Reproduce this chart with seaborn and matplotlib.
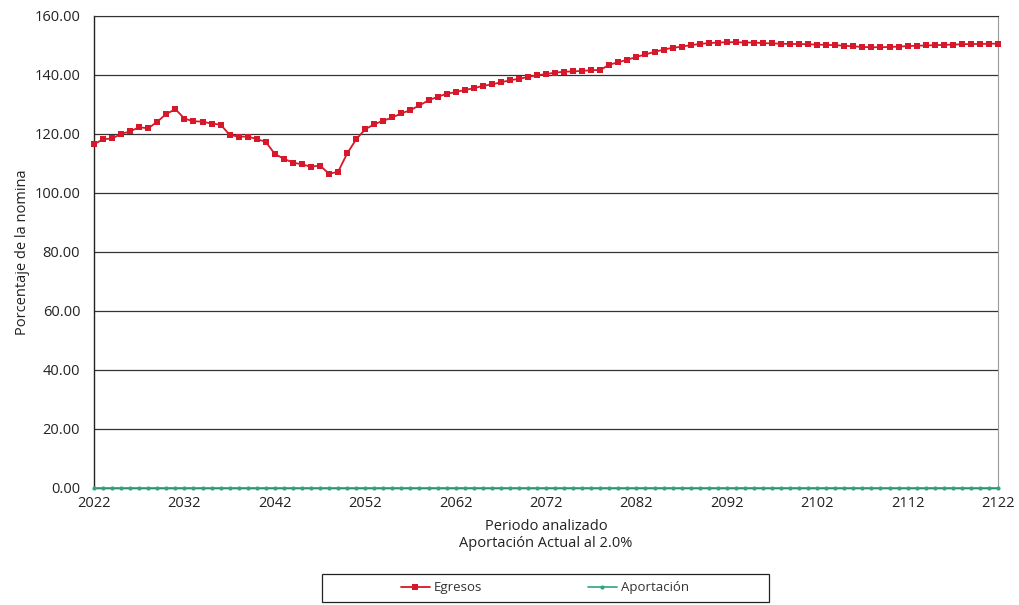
import pandas as pd
import seaborn as sns
import matplotlib.pyplot as plt
from matplotlib.patches import Rectangle
from matplotlib.ticker import MultipleLocator, FormatStrFormatter

# Datos
years = list(range(2022, 2123))
xticks = list(range(2022, 2123, 10))

egresos = [
    116.5, 118.2, 118.5, 120.0, 120.9, 122.3, 121.9, 124.2, 126.8, 128.4,
    125.2, 124.3, 124.2, 123.5, 123.2, 119.7, 119.1, 119.1, 118.3, 117.3,
    113.2, 111.6, 110.3, 109.7, 108.9, 109.3, 106.5, 107.2, 113.4, 118.2,
    121.6, 123.3, 124.5, 125.6, 127.0, 128.1, 129.7, 131.4, 132.6, 133.6,
    134.2, 134.9, 135.5, 136.3, 136.8, 137.5, 138.2, 138.7, 139.3, 139.9,
    140.3, 140.8, 141.1, 141.2, 141.4, 141.6, 141.7, 143.5, 144.3, 145.2,
    146.1, 147.0, 147.8, 148.6, 149.2, 149.6, 150.1, 150.5, 150.8, 151.0,
    151.1, 151.1, 151.0, 151.0, 150.8, 150.7, 150.6, 150.5, 150.5, 150.4,
    150.3, 150.2, 150.1, 149.9, 149.7, 149.5, 149.4, 149.4, 149.5, 149.6,
    149.8, 149.9, 150.0, 150.1, 150.2, 150.3, 150.4, 150.5, 150.5, 150.6,
    150.6,
]

aportacion = [
    0.0, 0.0, 0.0, 0.0, 0.0, 0.0, 0.0, 0.0, 0.0, 0.0,
    0.0, 0.0, 0.0, 0.0, 0.0, 0.0, 0.0, 0.0, 0.0, 0.0,
    0.0, 0.0, 0.0, 0.0, 0.0, 0.0, 0.0, 0.0, 0.0, 0.0,
    0.0, 0.0, 0.0, 0.0, 0.0, 0.0, 0.0, 0.0, 0.0, 0.0,
    0.0, 0.0, 0.0, 0.0, 0.0, 0.0, 0.0, 0.0, 0.0, 0.0,
    0.0, 0.0, 0.0, 0.0, 0.0, 0.0, 0.0, 0.0, 0.0, 0.0,
    0.0, 0.0, 0.0, 0.0, 0.0, 0.0, 0.0, 0.0, 0.0, 0.0,
    0.0, 0.0, 0.0, 0.0, 0.0, 0.0, 0.0, 0.0, 0.0, 0.0,
    0.0, 0.0, 0.0, 0.0, 0.0, 0.0, 0.0, 0.0, 0.0, 0.0,
    0.0, 0.0, 0.0, 0.0, 0.0, 0.0, 0.0, 0.0, 0.0, 0.0,
    0.0,
]

df = pd.DataFrame({'Año': years, 'Egresos': egresos, 'Aportación': aportacion})

sns.set_style('white')
plt.rcParams['font.family'] = ['Open Sans', 'DejaVu Sans']

fig = plt.figure(figsize=(10.19, 6.05), dpi=100)
ax = fig.add_axes([0.0923, 0.1934, 0.8871, 0.7802])

# Lineas horizontales de referencia
for v in range(20, 161, 20):
    ax.axhline(v, color='#333333', lw=0.9, zorder=0)

sns.lineplot(data=df, x='Año', y='Aportación', ax=ax, color='#2fa57a', lw=1.2,
             marker='o', markersize=3, markeredgewidth=0, label='Aportación',
             zorder=5, clip_on=False)
sns.lineplot(data=df, x='Año', y='Egresos', ax=ax, color='#d7182a', lw=1.3,
             marker='s', markersize=4.2, markeredgewidth=0, label='Egresos',
             zorder=4, clip_on=False)

ax.set_xlim(2022, 2122)
ax.set_ylim(0, 160)
ax.set_xticks(xticks)
ax.set_xticks(years[5::10], minor=True)
ax.yaxis.set_major_locator(MultipleLocator(20))
ax.yaxis.set_major_formatter(FormatStrFormatter('%.2f'))
ax.tick_params(axis='both', labelsize=10.5, colors='#222222')
ax.tick_params(axis='y', length=4, width=0.9, direction='out', pad=6)
ax.tick_params(axis='x', which='both', length=3, width=0.8, direction='inout', pad=4)

for s in ['left', 'bottom']:
    ax.spines[s].set_color('#222222')
    ax.spines[s].set_linewidth(1.0)
ax.spines['right'].set_color('#999999')
ax.spines['top'].set_color('#333333')

ax.set_xlabel('Periodo analizado\nAportación Actual al 2.0%', fontsize=10.5, color='#222222', labelpad=6)
ax.set_ylabel('Porcentaje de la nomina', fontsize=10.5, color='#222222', labelpad=3)

ax.get_legend().remove()
handles, labels = ax.get_legend_handles_labels()
order = [labels.index('Egresos'), labels.index('Aportación')]
leg = fig.legend([handles[i] for i in order], [labels[i] for i in order],
                 loc='center', bbox_to_anchor=(0.5348, 0.0281), ncol=2,
                 frameon=False, fontsize=9.5, handlelength=2.2,
                 columnspacing=8, handletextpad=0.3)
for t in leg.get_texts():
    t.set_color('#333333')

# recuadro de la leyenda
fig.patches.append(Rectangle((322 / 1019, 3 / 605), 447 / 1019, 28 / 605,
                             transform=fig.transFigure, fill=False,
                             edgecolor='#222222', lw=0.9))

fig.savefig('out.png', dpi=100)
